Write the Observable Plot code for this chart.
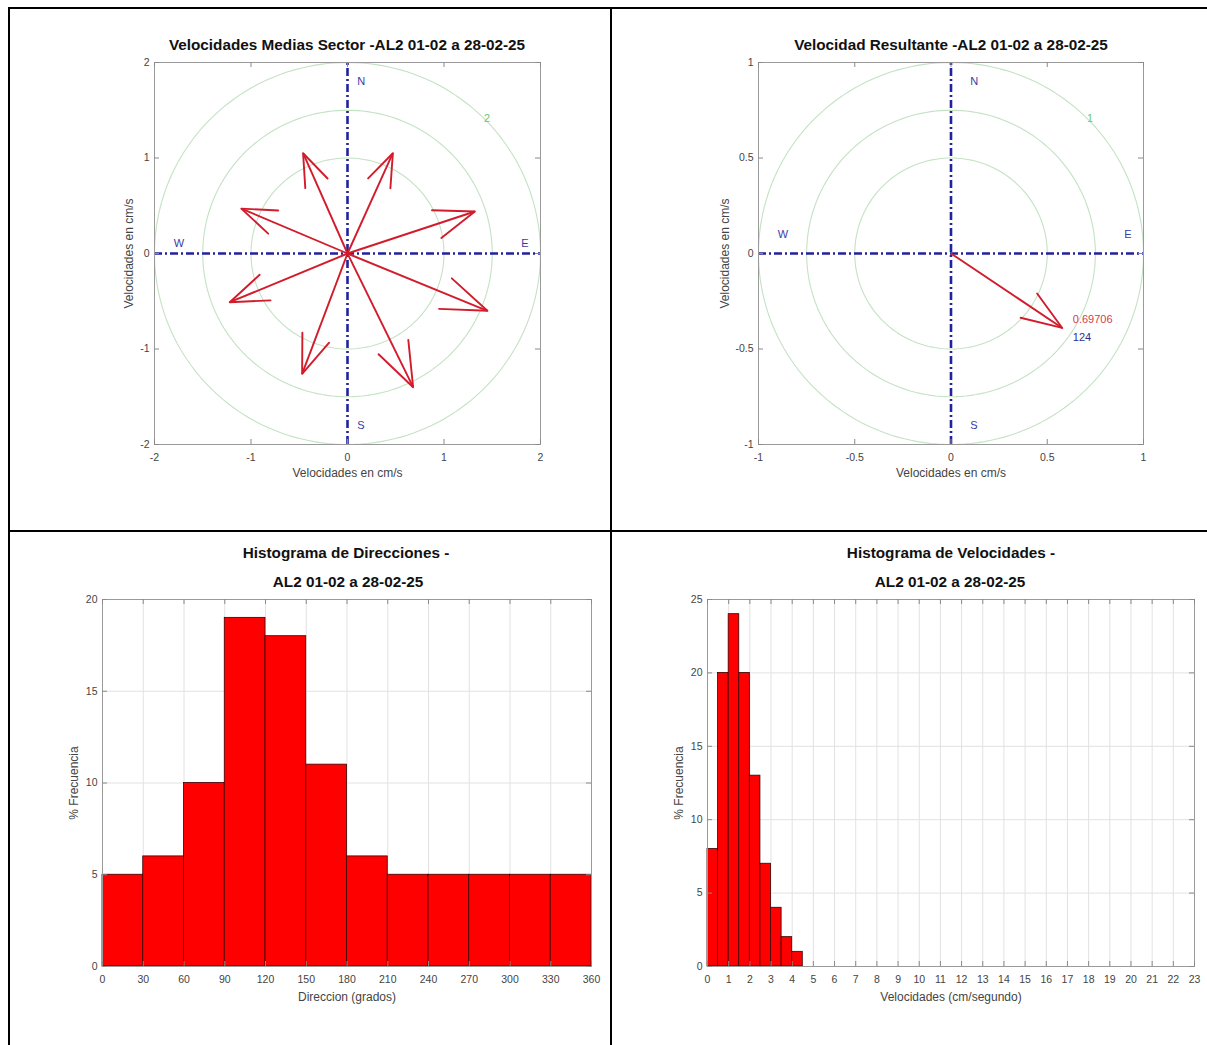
<!DOCTYPE html>
<html><head><meta charset="utf-8">
<script src="https://cdn.jsdelivr.net/npm/d3@7"></script>
<script src="https://cdn.jsdelivr.net/npm/@observablehq/plot@0.6"></script>
<style>
body{margin:0;background:#fff;font-family:"Liberation Sans",Arial,sans-serif;}
#page{position:relative;width:1207px;height:1045px;overflow:hidden;background:#fff;}
.ttl{position:absolute;font-weight:bold;font-size:15.3px;color:#111;white-space:nowrap;transform:translate(-50%,-50%);line-height:1;}
.bline{position:absolute;background:#000;}
.panel{position:absolute;}
</style></head><body><div id="page"></div>
<script>
// ---------------- DATA ----------------
const title1 = "Velocidades Medias Sector -AL2 01-02 a 28-02-25";
const title2 = "Velocidad Resultante -AL2 01-02 a 28-02-25";
const title3 = ["Histograma de Direcciones -", "AL2 01-02 a 28-02-25"];
const title4 = ["Histograma de Velocidades -", "AL2 01-02 a 28-02-25"];

// sector mean velocity components (east, north) in cm/s
const sectorU = [0.47, 1.32, 1.45, 0.68, -0.47, -1.22, -1.10, -0.46];
const sectorV = [1.05, 0.44, -0.60, -1.40, -1.26, -0.51, 0.47, 1.05];
const ringsSector = [1, 1.5, 2];
const ringLabelSector = "2";
const ticksSector = [-2, -1, 0, 1, 2];

// resultant velocity
const resultantSpeed = 0.69706;
const resultantDir = 124; // degrees from north
const resultantSpeedLabel = "0.69706";
const resultantDirLabel = "124";
const ringsResult = [0.5, 0.75, 1];
const ringLabelResult = "1";
const ticksResult = [-1, -0.5, 0, 0.5, 1];

const cardinals = ["N", "S", "E", "W"];

// direction histogram
const dirBinStart = [0, 30, 60, 90, 120, 150, 180, 210, 240, 270, 300, 330];
const dirFreq = [5, 6, 10, 19, 18, 11, 6, 5, 5, 5, 5, 5];
const dirBinWidth = 30;
const dirXTicks = [0, 30, 60, 90, 120, 150, 180, 210, 240, 270, 300, 330, 360];
const dirYTicks = [0, 5, 10, 15, 20];

// speed histogram
const spdBinStart = [0, 0.5, 1, 1.5, 2, 2.5, 3, 3.5, 4];
const spdFreq = [8, 20, 24, 20, 13, 7, 4, 2, 1];
const spdBinWidth = 0.5;
const spdXTicks = [0,1,2,3,4,5,6,7,8,9,10,11,12,13,14,15,16,17,18,19,20,21,22,23];
const spdYTicks = [0, 5, 10, 15, 20, 25];

// ---------------- STYLE / LAYOUT ----------------
const FONT = '"Liberation Sans", Arial, Helvetica, sans-serif';
const RED = "#d21c2c";
const BLUE = "#22229c";
const RING = "#c4e2c4";
const HEAD_BACK = 0.3, HEAD_HALF = 0.11;
const cardPos = {N: [0.1, 0.9], S: [0.1, -0.9], E: [0.9, 0.1], W: [-0.9, 0.1]};

const page = document.getElementById("page");

function addLine(l, t, w, h) {
  const d = document.createElement("div");
  d.className = "bline";
  Object.assign(d.style, {left: l + "px", top: t + "px", width: w + "px", height: h + "px"});
  page.appendChild(d);
}
function addTitle(text, cx, cy) {
  const d = document.createElement("div");
  d.className = "ttl";
  d.textContent = text;
  d.style.left = cx + "px"; d.style.top = cy + "px";
  page.appendChild(d);
}
function place(svg, left, top) {
  const w = document.createElement("div");
  w.className = "panel";
  w.style.left = left + "px"; w.style.top = top + "px";
  w.appendChild(svg);
  page.appendChild(w);
}

function framed({width, height, ml, mr, mt, mb, xdom, ydom, xticks, yticks, xlabel, ylabel, xOff, yOff, grid, marks, fmt}) {
  const fw = width - ml - mr, fh = height - mt - mb;
  const tk = 5, tcol = "#8a8a8a";
  return Plot.plot({
    width, height, marginLeft: ml, marginRight: mr, marginTop: mt, marginBottom: mb,
    x: {domain: xdom}, y: {domain: ydom},
    style: {fontFamily: FONT, fontSize: "10.5px", color: "#444", background: "transparent", overflow: "visible"},
    marks: [
      ...(grid ? [
        Plot.gridX(xticks, {stroke: "#e2e2e2", strokeOpacity: 1}),
        Plot.gridY(yticks, {stroke: "#e2e2e2", strokeOpacity: 1})
      ] : []),
      ...marks,
      Plot.frame({stroke: "#9a9a9a"}),
      Plot.tickX(xticks, {x: d => d, insetBottom: fh - tk, stroke: tcol}),
      Plot.tickX(xticks, {x: d => d, insetTop: fh - tk, stroke: tcol}),
      Plot.tickY(yticks, {y: d => d, insetRight: fw - tk, stroke: tcol}),
      Plot.tickY(yticks, {y: d => d, insetLeft: fw - tk, stroke: tcol}),
      Plot.axisX(xticks, {tickSize: 0, tickPadding: 9, tickFormat: fmt, label: null}),
      Plot.axisY(yticks, {tickSize: 0, tickPadding: 5, tickFormat: fmt, label: null}),
      Plot.axisX({ticks: [], tickSize: 0, label: xlabel, labelAnchor: "center", labelArrow: "none", labelOffset: xOff, fontSize: 12}),
      Plot.axisY({ticks: [], tickSize: 0, label: ylabel, labelAnchor: "center", labelArrow: "none", labelOffset: yOff, fontSize: 12})
    ]
  });
}

function ringPoints(rings) {
  return rings.flatMap(r => d3.range(0, 361, 2).map(a => ({r, x: r * Math.cos(a * Math.PI / 180), y: r * Math.sin(a * Math.PI / 180)})));
}
function arrowHeads(us, vs) {
  return us.flatMap((u, i) => {
    const v = vs[i];
    const bx = u * (1 - HEAD_BACK), by = v * (1 - HEAD_BACK);
    return [
      {i, x: bx - HEAD_HALF * v, y: by + HEAD_HALF * u},
      {i, x: u, y: v},
      {i, x: bx + HEAD_HALF * v, y: by - HEAD_HALF * u}
    ];
  });
}
function compassMarks(lim, rings, ringLabel, us, vs) {
  const rmax = rings[rings.length - 1];
  const shafts = us.map((u, i) => ({u, v: vs[i]}));
  return [
    Plot.line(ringPoints(rings), {x: "x", y: "y", z: "r", stroke: RING, strokeWidth: 1.1}),
    Plot.text([ringLabel], {x: rmax * Math.SQRT1_2, y: rmax * Math.SQRT1_2, text: d => d, fill: "#6cc86c", textAnchor: "start", fontSize: 11}),
    Plot.ruleX([0], {y1: -lim, y2: lim, stroke: BLUE, strokeWidth: 2.6, strokeDasharray: "8,3,2,3"}),
    Plot.ruleY([0], {x1: -lim, x2: lim, stroke: BLUE, strokeWidth: 2.6, strokeDasharray: "8,3,2,3"}),
    Plot.text(cardinals, {
      x: d => (d === "E" || d === "W") ? cardPos[d][0] * lim : cardPos[d][0],
      y: d => (d === "N" || d === "S") ? cardPos[d][1] * lim : cardPos[d][1],
      text: d => d, fill: "#3a3aa8", textAnchor: "start", fontSize: 11
    }),
    Plot.link(shafts, {x1: 0, y1: 0, x2: "u", y2: "v", stroke: RED, strokeWidth: 1.9}),
    Plot.line(arrowHeads(us, vs), {x: "x", y: "y", z: "i", stroke: RED, strokeWidth: 1.9})
  ];
}

// ---------------- TABLE BORDERS ----------------
addLine(8, 7, 1199, 2);
addLine(8, 7, 1.5, 1038);
addLine(610, 7, 1.5, 1038);
addLine(8, 530, 1199, 2);

// ---------------- PANEL 1 ----------------
addTitle(title1, 347, 45);
place(framed({
  width: 460, height: 440, ml: 54, mr: 20, mt: 6, mb: 52,
  xdom: [-2, 2], ydom: [-2, 2], xticks: ticksSector, yticks: ticksSector,
  xlabel: "Velocidades en cm/s", ylabel: "Velocidades en cm/s", xOff: 32, yOff: 30,
  fmt: d => String(d),
  marks: compassMarks(2, ringsSector, ringLabelSector, sectorU, sectorV)
}), 100, 56);

// ---------------- PANEL 2 ----------------
const resU = [resultantSpeed * Math.sin(resultantDir * Math.PI / 180)];
const resV = [resultantSpeed * Math.cos(resultantDir * Math.PI / 180)];
addTitle(title2, 951, 45);
place(framed({
  width: 460, height: 440, ml: 58, mr: 17, mt: 6, mb: 52,
  xdom: [-1, 1], ydom: [-1, 1], xticks: ticksResult, yticks: ticksResult,
  xlabel: "Velocidades en cm/s", ylabel: "Velocidades en cm/s", xOff: 32, yOff: 38,
  fmt: d => String(d),
  marks: [
    ...compassMarks(1, ringsResult, ringLabelResult, resU, resV),
    Plot.text([resultantSpeedLabel], {x: resU[0] + 0.055, y: resV[0] + 0.045, text: d => d, fill: "#d04050", textAnchor: "start", fontSize: 11}),
    Plot.text([resultantDirLabel], {x: resU[0] + 0.055, y: resV[0] - 0.05, text: d => d, fill: "#303090", textAnchor: "start", fontSize: 11})
  ]
}), 700, 56);

// ---------------- PANEL 3 ----------------
addTitle(title3[0], 346, 553);
addTitle(title3[1], 348, 582);
place(framed({
  width: 570, height: 430, ml: 62, mr: 19, mt: 9, mb: 54,
  xdom: [0, 360], ydom: [0, 20], xticks: dirXTicks, yticks: dirYTicks,
  xlabel: "Direccion (grados)", ylabel: "% Frecuencia", xOff: 34, yOff: 33, grid: true,
  fmt: d => String(d),
  marks: [
    Plot.rectY(dirBinStart.map((s, i) => ({x1: s, x2: s + dirBinWidth, y: dirFreq[i]})),
      {x1: "x1", x2: "x2", y1: 0, y2: "y", fill: "#ff0000", stroke: "#3a0000", strokeWidth: 0.8})
  ]
}), 40, 590);

// ---------------- PANEL 4 ----------------
addTitle(title4[0], 951, 553);
addTitle(title4[1], 950, 582);
place(framed({
  width: 566, height: 430, ml: 67, mr: 12, mt: 9, mb: 54,
  xdom: [0, 23], ydom: [0, 25], xticks: spdXTicks, yticks: spdYTicks,
  xlabel: "Velocidades (cm/segundo)", ylabel: "% Frecuencia", xOff: 34, yOff: 33, grid: true,
  fmt: d => String(d),
  marks: [
    Plot.rectY(spdBinStart.map((s, i) => ({x1: s, x2: s + spdBinWidth, y: spdFreq[i]})),
      {x1: "x1", x2: "x2", y1: 0, y2: "y", fill: "#ff0000", stroke: "#3a0000", strokeWidth: 0.8})
  ]
}), 640, 590);
</script></body></html>
